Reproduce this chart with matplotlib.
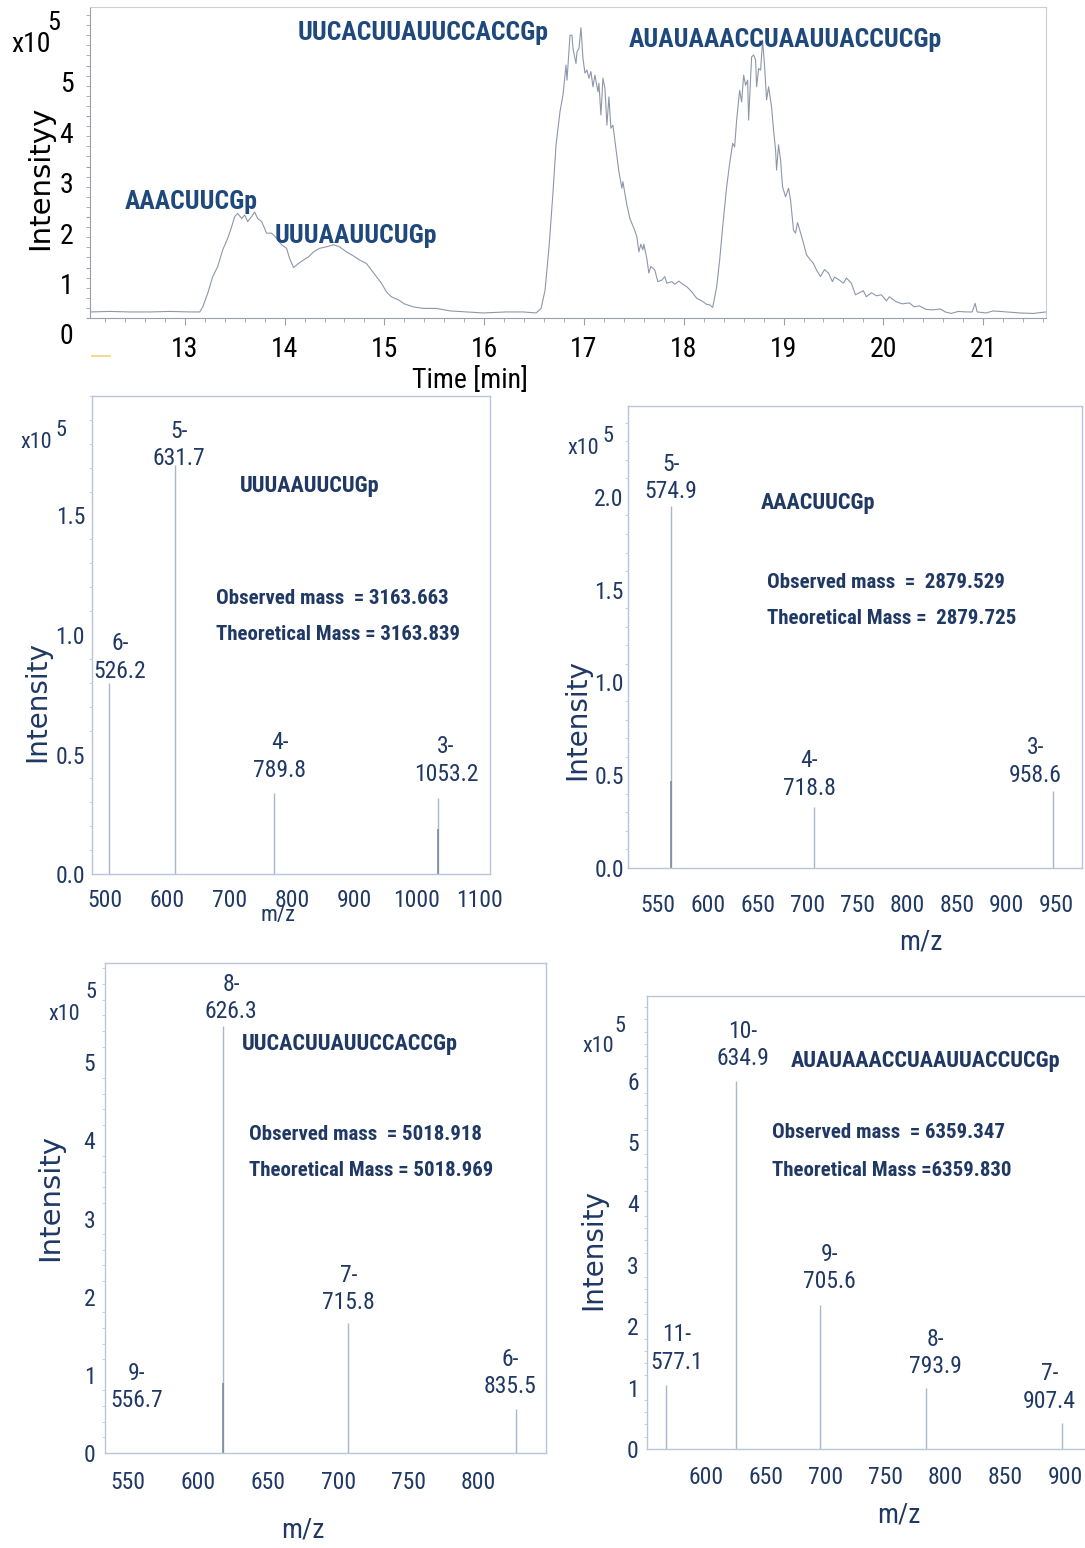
"""
RNase T1 digest: LC total ion chromatogram and deconvoluted ESI-MS spectra
of the four oligonucleotide fragments.
"""

import matplotlib
matplotlib.use('Agg')
import matplotlib.pyplot as plt
from matplotlib.ticker import MultipleLocator
from matplotlib.transforms import ScaledTranslation
from matplotlib.lines import Line2D

W, H = 1085, 1548
NAVY = '#1f3864'
TRACE = '#8e97aa'
SPINE = '#b9c5d9'
STICK = '#aab6cb'
STICK_DARK = '#7e8aa0'
NARROW = ['Roboto Condensed', 'DejaVu Sans Condensed', 'Liberation Sans Narrow',
          'Lato', 'DejaVu Sans']
WIDE = ['DejaVu Sans']

plt.rcParams['font.family'] = NARROW

# ---- chromatogram (time in min, intensity in 1e5 counts) ----
tic_time = [
    12.05, 12.25, 12.45, 12.65, 12.85, 13.05, 13.15, 13.18, 13.23, 13.28,
    13.33, 13.38, 13.43, 13.47, 13.50, 13.53, 13.57, 13.60, 13.63, 13.67,
    13.70, 13.73, 13.77, 13.82, 13.87, 13.92, 13.97, 14.02, 14.05, 14.09,
    14.14, 14.19, 14.24, 14.29, 14.35, 14.42, 14.49, 14.55, 14.62, 14.69,
    14.75, 14.82, 14.87, 14.92, 14.97, 15.02, 15.07, 15.14, 15.20, 15.29,
    15.39, 15.52, 15.66, 15.82, 15.99, 16.22, 16.39, 16.52, 16.57, 16.61,
    16.65, 16.69, 16.72, 16.76, 16.79, 16.82, 16.83, 16.86, 16.88, 16.89,
    16.92, 16.93, 16.95, 16.97, 16.99, 17.01, 17.03, 17.05, 17.07, 17.09,
    17.11, 17.14, 17.15, 17.17, 17.19, 17.21, 17.23, 17.25, 17.27, 17.29,
    17.32, 17.35, 17.38, 17.39, 17.43, 17.46, 17.50, 17.53, 17.55, 17.57,
    17.59, 17.60, 17.63, 17.65, 17.67, 17.71, 17.74, 17.78, 17.81, 17.83,
    17.88, 17.91, 17.95, 17.99, 18.03, 18.08, 18.13, 18.18, 18.23, 18.26,
    18.29, 18.33, 18.36, 18.39, 18.43, 18.46, 18.49, 18.51, 18.53, 18.56,
    18.58, 18.60, 18.62, 18.64, 18.65, 18.68, 18.70, 18.72, 18.73, 18.75,
    18.77, 18.79, 18.81, 18.83, 18.85, 18.88, 18.90, 18.92, 18.93, 18.95,
    18.97, 18.99, 19.02, 19.05, 19.07, 19.10, 19.12, 19.14, 19.16, 19.20,
    19.23, 19.27, 19.30, 19.33, 19.37, 19.41, 19.45, 19.49, 19.51, 19.56,
    19.60, 19.63, 19.68, 19.72, 19.76, 19.80, 19.83, 19.88, 19.93, 19.98,
    20.03, 20.06, 20.13, 20.19, 20.26, 20.31, 20.36, 20.43, 20.50, 20.57,
    20.62, 20.68, 20.75, 20.83, 20.89, 20.92, 20.94, 21.03, 21.10, 21.23,
    21.37, 21.50, 21.63,
]
tic_int = [
    0.12, 0.13, 0.12, 0.12, 0.13, 0.12, 0.12, 0.22, 0.49, 0.82,
    1.02, 1.35, 1.58, 1.81, 2.01, 2.07, 1.97, 2.04, 1.91, 2.01,
    2.10, 1.97, 1.91, 1.68, 1.68, 1.58, 1.45, 1.38, 1.18, 1.00,
    1.08, 1.15, 1.21, 1.31, 1.38, 1.41, 1.45, 1.41, 1.31, 1.23,
    1.15, 1.08, 0.95, 0.82, 0.69, 0.52, 0.42, 0.36, 0.28, 0.22,
    0.19, 0.19, 0.14, 0.12, 0.10, 0.12, 0.12, 0.10, 0.19, 0.55,
    1.41, 2.50, 3.43, 4.09, 4.42, 5.01, 4.71, 5.60, 5.60, 5.34,
    5.04, 5.27, 5.34, 5.75, 5.14, 4.85, 4.91, 4.75, 4.88, 4.58,
    4.81, 4.48, 4.65, 4.02, 4.75, 4.55, 3.82, 4.38, 3.76, 3.82,
    3.36, 2.90, 2.57, 2.70, 2.24, 1.97, 1.78, 1.61, 1.31, 1.46,
    1.35, 1.46, 1.18, 0.89, 1.02, 0.95, 0.72, 0.75, 0.82, 0.69,
    0.72, 0.67, 0.73, 0.67, 0.62, 0.52, 0.39, 0.34, 0.27, 0.26,
    0.21, 0.62, 1.15, 1.81, 2.60, 3.06, 3.46, 3.39, 3.92, 4.51,
    4.28, 4.81, 4.61, 4.71, 3.92, 5.17, 5.21, 5.11, 4.58, 4.94,
    4.91, 5.50, 4.98, 4.32, 4.58, 4.18, 3.72, 3.33, 2.93, 3.43,
    3.13, 2.60, 2.40, 2.57, 2.34, 1.74, 1.68, 1.89, 1.76, 1.48,
    1.25, 1.15, 1.08, 0.95, 0.82, 0.96, 0.89, 0.72, 0.81, 0.75,
    0.69, 0.79, 0.69, 0.46, 0.50, 0.54, 0.42, 0.50, 0.44, 0.46,
    0.34, 0.42, 0.32, 0.28, 0.30, 0.22, 0.24, 0.17, 0.16, 0.18,
    0.12, 0.09, 0.13, 0.12, 0.12, 0.29, 0.12, 0.10, 0.14, 0.12,
    0.10, 0.09, 0.12,
]
assert len(tic_time) == len(tic_int)

peak_names = ['AAACUUCGp', 'UUUAAUUCUGp', 'UUCACUUAUUCCACCGp', 'AUAUAAACCUAAUUACCUCGp']

# ---- mass spectra: m/z, charge state, intensity (1e5) ----
mz_a = [526.2, 631.7, 789.8, 1053.2]
z_a = [6, 5, 4, 3]
int_a = [0.80, 1.71, 0.34, 0.32]

mz_b = [574.9, 718.8, 958.6]
z_b = [5, 4, 3]
int_b = [1.95, 0.33, 0.415]

mz_c = [556.7, 626.3, 715.8, 835.5]
z_c = [9, 8, 7, 6]
int_c = [0.0, 5.46, 1.66, 0.56]

mz_d = [577.1, 634.9, 705.6, 793.9, 907.4]
z_d = [11, 10, 9, 8, 7]
int_d = [1.05, 5.99, 2.34, 0.99, 0.43]

# overlapping second sticks at the same m/z
extra_a = ([1053.2], [0.19])
extra_b = ([574.9], [0.47])
extra_c = ([626.3], [0.90])

observed = [3163.663, 2879.529, 5018.918, 6359.347]
theoretical = [3163.839, 2879.725, 5018.969, 6359.830]


def rect(l, t, r, b):
    return [l / W, 1 - b / H, (r - l) / W, (b - t) / H]


def ftext(fig, x, y, s, **kw):
    return fig.text(x / W, 1 - y / H, s, **kw)


def shift_labels(labels, fig, dx=0, dy=0):
    off = ScaledTranslation(dx / 100, dy / 100, fig.dpi_scale_trans)
    for lab in labels:
        lab.set_transform(lab.get_transform() + off)


fig = plt.figure(figsize=(W / 100, H / 100), dpi=100)

# ---------------- chromatogram ----------------
ax = fig.add_axes(rect(90, 7, 1046, 318))
ax.plot(tic_time, tic_int, color=TRACE, lw=0.8)
ax.set_xlim(12.05, 21.63)
ax.set_ylim(0, 6.16)
ax.xaxis.set_minor_locator(MultipleLocator(0.2))
ax.yaxis.set_minor_locator(MultipleLocator(0.2))
ax.set_xticks(range(13, 22))
ax.set_yticks(range(0, 6))
for s in ax.spines.values():
    s.set_color('#c9ced8')
ax.spines['bottom'].set_color('#9aa0ab')
ax.spines['left'].set_color('#9aa0ab')
ax.tick_params(axis='x', which='major', length=5, color='#9aa0ab', labelsize=20, pad=8)
ax.tick_params(axis='x', which='minor', length=3, color='#9aa0ab')
ax.tick_params(axis='y', which='both', length=3, color='#9aa0ab', labelsize=20, pad=9)

chrom_label_pos = [(13.06, 2.30), (14.71, 1.62), (15.39, 5.64), (19.02, 5.50)]
for name, (tx, ty) in zip(peak_names, chrom_label_pos):
    ax.text(tx, ty, name, ha='center', va='center', fontsize=18.5,
            fontweight='bold', color='#1f497d')

ftext(fig, 11, 45, 'x10', fontsize=20, ha='left', va='center')
ftext(fig, 47, 23, '5', fontsize=19, ha='left', va='center')
ftext(fig, 40, 178, 'Intensityy', rotation=90, fontsize=21, ha='center', va='center',
      family=WIDE)
ftext(fig, 470, 380, 'Time [min]', fontsize=20, ha='center', va='center')
fig.add_artist(Line2D([92 / W, 110 / W], [1 - 356 / H, 1 - 356 / H],
                      color='#f3d27a', lw=1.2))

# ---------------- spectra ----------------
panels = [
    dict(box=(92, 396, 490, 874), mz=mz_a, z=z_a, inten=int_a, extra=extra_a,
         xlim=(499, 1136.5), ylim=(0, 2.0), xticks=range(500, 1101, 100),
         yticks=[0, 0.5, 1.0, 1.5], yfmt='{:.1f}', yminor=0.1, ypad=5, xpad=11,
         offsets=[(11, 0), (4, -5), (6, 11), (8, 12)],
         name_xy=(310, 486), obs_xy=(216, 598), theo_xy=(216, 634),
         obs_sep=['  = ', ' = '], xlab=(278, 915, 16), ylab=(37, 702, 20),
         x10=(20, 443), sup=(55, 430)),
    dict(box=(628, 406, 1082, 868), mz=mz_b, z=z_b, inten=int_b, extra=extra_b,
         xlim=(531.9, 987.6), ylim=(0, 2.49), xticks=range(550, 951, 50),
         yticks=[0, 0.5, 1.0, 1.5, 2.0], yfmt='{:.1f}', yminor=0.1, ypad=3, xpad=19,
         offsets=[(0, 3), (-5, 7), (-18, 4)],
         name_xy=(818, 503), obs_xy=(767, 582), theo_xy=(767, 619),
         obs_sep=['  =  ', ' =  '], xlab=(921, 942, 20), ylab=(577, 720, 20),
         x10=(567, 449), sup=(602, 437)),
    dict(box=(105, 963, 546, 1453), mz=mz_c, z=z_c, inten=int_c, extra=extra_c,
         xlim=(542.1, 856.9), ylim=(0, 6.27), xticks=range(550, 801, 50),
         yticks=range(0, 6), yfmt='{:d}', yminor=0.2, ypad=7, xpad=13,
         offsets=[(11, 41), (8, 3), (0, 9), (-6, 11)],
         name_xy=(350, 1044), obs_xy=(249, 1134), theo_xy=(249, 1170),
         obs_sep=['  = ', ' = '], xlab=(303, 1530, 20), ylab=(50, 1197, 21),
         x10=(48, 1014), sup=(85, 993)),
    dict(box=(647, 996, 1092, 1449), mz=mz_d, z=z_d, inten=int_d, extra=None,
         xlim=(560.9, 932.2), ylim=(0, 7.38), xticks=range(600, 901, 50),
         yticks=range(0, 7), yfmt='{:d}', yminor=0.2, ypad=6, xpad=12,
         offsets=[(10, 11), (7, 11), (9, 12), (9, 10), (-13, 10)],
         name_xy=(926, 1061), obs_xy=(772, 1133), theo_xy=(772, 1170),
         obs_sep=['  = ', ' ='], xlab=(899, 1515, 20), ylab=(593, 1250, 20),
         x10=(582, 1046), sup=(614, 1027)),
]
panel_names = [peak_names[1], peak_names[0], peak_names[2], peak_names[3]]

for p, name, obs, theo in zip(panels, panel_names, observed, theoretical):
    ax = fig.add_axes(rect(*p['box']))
    ax.vlines(p['mz'], 0, p['inten'], color=STICK, lw=1.0)
    if p['extra']:
        ax.vlines(p['extra'][0], 0, p['extra'][1], color=STICK_DARK, lw=1.2)
    ax.set_xlim(*p['xlim'])
    ax.set_ylim(*p['ylim'])
    ax.set_xticks(list(p['xticks']))
    ax.set_yticks(list(p['yticks']))
    ax.set_yticklabels([p['yfmt'].format(v) for v in p['yticks']])
    ax.yaxis.set_minor_locator(MultipleLocator(p['yminor']))
    for s in ax.spines.values():
        s.set_color(SPINE)
        s.set_linewidth(1.0)
    ax.tick_params(axis='x', length=0, labelsize=17, labelcolor=NAVY, pad=p['xpad'])
    ax.tick_params(axis='y', which='major', length=0, labelsize=17, labelcolor=NAVY,
                   pad=p['ypad'])
    ax.tick_params(axis='y', which='minor', length=2, color='#c3cad6', direction='out')

    for mz, z, h, (dx, dy) in zip(p['mz'], p['z'], p['inten'], p['offsets']):
        ax.annotate(f'{z}-\n{mz:.1f}', xy=(mz, h), xytext=(dx, dy),
                    textcoords='offset pixels', ha='center', va='bottom',
                    fontsize=17, color=NAVY, linespacing=1.25)

    nx, ny = p['name_xy']
    ftext(fig, nx, ny, name, fontsize=16, fontweight='bold', color=NAVY,
          ha='center', va='center')
    ox, oy = p['obs_xy']
    ftext(fig, ox, oy, f'Observed mass{p["obs_sep"][0]}{obs:.3f}', fontsize=15,
          fontweight='bold', color=NAVY, ha='left', va='center')
    tx, ty = p['theo_xy']
    ftext(fig, tx, ty, f'Theoretical Mass{p["obs_sep"][1]}{theo:.3f}', fontsize=15,
          fontweight='bold', color=NAVY, ha='left', va='center')

    lx, ly, ls = p['xlab']
    ftext(fig, lx, ly, 'm/z', fontsize=ls, color=NAVY, ha='center', va='center')
    yx, yy, ys = p['ylab']
    ftext(fig, yx, yy, 'Intensity', rotation=90, fontsize=ys, color=NAVY,
          ha='center', va='center', family=WIDE)
    xx, xy10 = p['x10']
    ftext(fig, xx, xy10, 'x10', fontsize=16, color=NAVY, ha='left', va='center')
    sx, sy = p['sup']
    ftext(fig, sx, sy, '5', fontsize=16, color=NAVY, ha='left', va='center')

    p['ax'] = ax

fig.canvas.draw()
shift_labels(fig.axes[0].get_yticklabels(), fig, dy=-16)
for p in panels:
    shift_labels(p['ax'].get_xticklabels(), fig, dx=12)

fig.savefig('out.png', dpi=100, facecolor='white')
